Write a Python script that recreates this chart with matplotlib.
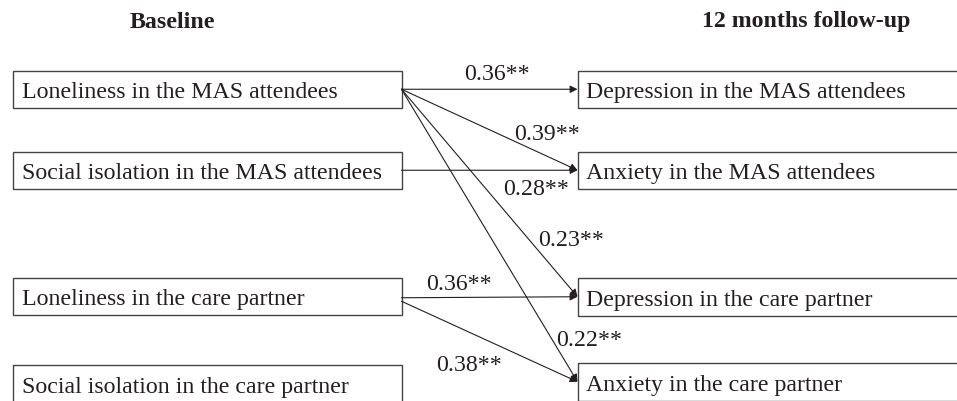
import matplotlib
matplotlib.use('Agg')
from matplotlib import pyplot as plt
from matplotlib.patches import Rectangle

plt.rcParams['font.family'] = ['Liberation Serif', 'DejaVu Serif']

ink = '#231f20'

# path diagram data
baseline_vars = ['Loneliness in the MAS attendees',
                 'Social isolation in the MAS attendees',
                 'Loneliness in the care partner',
                 'Social isolation in the care partner']
followup_vars = ['Depression in the MAS attendees',
                 'Anxiety in the MAS attendees',
                 'Depression in the care partner',
                 'Anxiety in the care partner']
path_from = [0, 0, 1, 0, 2, 0, 2]
path_to = [0, 1, 1, 2, 2, 3, 3]
path_coef = [0.36, 0.39, 0.28, 0.23, 0.36, 0.22, 0.38]
path_sig = ['**', '**', '**', '**', '**', '**', '**']

# layout (pixel units)
left_x0, left_x1 = 12.5, 401.5
right_x0, right_x1 = 577.5, 1000
left_tops = [71.5, 152.5, 278.5, 366]
right_tops = [71.5, 152.5, 279, 364]
box_h = 37.5
start_dy = [0, 0, 0, 0, 1.5, 0, 5]
label_xy = [(497, 72), (547, 132), (536, 187), (571, 238),
            (459, 282), (589, 338), (469, 363)]
fs = 17.2


def main():
    fig = plt.figure(figsize=(9.57, 4.02), dpi=100)
    ax = fig.add_axes([0, 0, 1, 1])
    ax.set_xlim(0, 957)
    ax.set_ylim(402, 0)
    ax.axis('off')

    ax.text(172, 22, 'Baseline', ha='center', va='center',
            fontsize=fs, fontweight='bold', color=ink)
    ax.text(806, 22, '12 months follow-up', ha='center', va='center',
            fontsize=fs, fontweight='bold', color=ink)

    for name, top in zip(baseline_vars, left_tops):
        ax.add_patch(Rectangle((left_x0, top), left_x1 - left_x0, box_h,
                               fill=False, edgecolor='#444444', lw=1.0))
        ax.text(left_x0 + 9, top + box_h / 2, name, ha='left',
                va='center_baseline', fontsize=fs, color=ink)

    for name, top in zip(followup_vars, right_tops):
        ax.add_patch(Rectangle((right_x0, top), right_x1 - right_x0, box_h,
                               fill=False, edgecolor='#444444', lw=1.0))
        ax.text(right_x0 + 9, top + box_h / 2, name, ha='left',
                va='center_baseline', fontsize=fs, color=ink)

    for i in range(len(path_coef)):
        y0 = left_tops[path_from[i]] + box_h / 2 + start_dy[i]
        y1 = right_tops[path_to[i]] + box_h / 2
        ax.annotate('', xy=(right_x0, y1), xytext=(left_x1, y0),
                    arrowprops=dict(arrowstyle='-|>', color=ink, lw=0.8,
                                    mutation_scale=11, shrinkA=0, shrinkB=0))
        lx, ly = label_xy[i]
        ax.text(lx, ly, f'{path_coef[i]:.2f}{path_sig[i]}', ha='center',
                va='center_baseline', fontsize=fs, color=ink)

    plt.savefig('out.png', dpi=100)


if __name__ == '__main__':
    main()
